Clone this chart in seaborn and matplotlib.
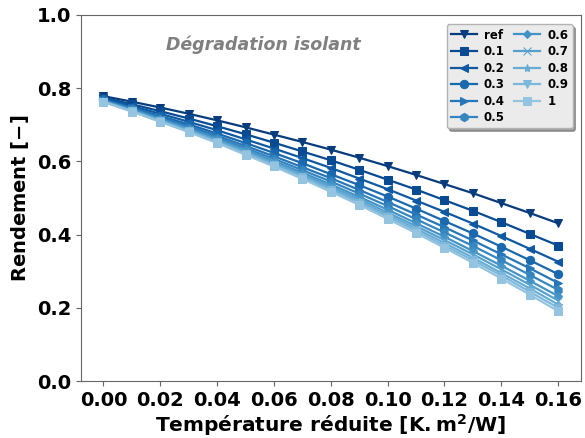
import numpy as np
import pandas as pd
import matplotlib
matplotlib.use('Agg')
import matplotlib.pyplot as plt
import seaborn as sns

# temperature reduite
t_red = [0.00, 0.01, 0.02, 0.03, 0.04, 0.05, 0.06, 0.07, 0.08,
         0.09, 0.10, 0.11, 0.12, 0.13, 0.14, 0.15, 0.16]

labels = ['ref', '0.1', '0.2', '0.3', '0.4', '0.5', '0.6', '0.7', '0.8', '0.9', '1']

eta_ref = [0.778, 0.763, 0.747, 0.730, 0.712, 0.693, 0.673, 0.653, 0.632, 0.610, 0.587, 0.563, 0.538, 0.513, 0.486, 0.459, 0.431]
eta_01 = [0.774, 0.756, 0.737, 0.717, 0.696, 0.674, 0.651, 0.627, 0.603, 0.577, 0.550, 0.523, 0.494, 0.465, 0.434, 0.402, 0.370]
eta_02 = [0.771, 0.751, 0.730, 0.708, 0.685, 0.660, 0.635, 0.609, 0.582, 0.553, 0.524, 0.493, 0.462, 0.430, 0.396, 0.361, 0.326]
eta_03 = [0.769, 0.747, 0.724, 0.701, 0.676, 0.650, 0.623, 0.595, 0.565, 0.535, 0.504, 0.471, 0.437, 0.403, 0.367, 0.330, 0.292]
eta_04 = [0.767, 0.745, 0.721, 0.696, 0.670, 0.642, 0.614, 0.584, 0.554, 0.522, 0.489, 0.455, 0.420, 0.384, 0.346, 0.308, 0.268]
eta_05 = [0.766, 0.743, 0.717, 0.692, 0.665, 0.636, 0.607, 0.576, 0.545, 0.512, 0.478, 0.442, 0.406, 0.369, 0.330, 0.290, 0.249]
eta_06 = [0.765, 0.741, 0.715, 0.689, 0.661, 0.631, 0.601, 0.569, 0.537, 0.503, 0.468, 0.431, 0.394, 0.355, 0.315, 0.274, 0.232]
eta_07 = [0.764, 0.739, 0.713, 0.686, 0.658, 0.627, 0.597, 0.564, 0.531, 0.497, 0.460, 0.423, 0.385, 0.346, 0.305, 0.263, 0.220]
eta_08 = [0.763, 0.738, 0.711, 0.684, 0.655, 0.624, 0.593, 0.560, 0.526, 0.491, 0.454, 0.416, 0.377, 0.337, 0.295, 0.253, 0.209]
eta_09 = [0.763, 0.737, 0.709, 0.682, 0.652, 0.621, 0.589, 0.556, 0.521, 0.486, 0.448, 0.410, 0.370, 0.330, 0.288, 0.244, 0.200]
eta_1 = [0.762, 0.736, 0.708, 0.680, 0.650, 0.618, 0.586, 0.552, 0.517, 0.481, 0.443, 0.404, 0.364, 0.323, 0.280, 0.236, 0.191]

series = [eta_ref, eta_01, eta_02, eta_03, eta_04, eta_05, eta_06, eta_07, eta_08, eta_09, eta_1]

markers = ['v', 's', '<', 'o', '>', 'h', 'D', 'x', '*', 'v', 's']
colors = plt.cm.Blues(np.linspace(0.95, 0.4, len(labels)))

plt.rcParams['font.weight'] = 'bold'
plt.rcParams['mathtext.default'] = 'bf'

fig, ax = plt.subplots(figsize=(5.85, 4.38), dpi=100)
for lab, vals, mk, col in zip(labels, series, markers, colors):
    d = pd.DataFrame({'T': t_red, 'eta': vals})
    sns.lineplot(data=d, x='T', y='eta', color=col, marker=mk,
                 markersize=6 if mk != 'D' else 4.5, markeredgecolor=col,
                 linewidth=1.6, label=lab, ax=ax)

ax.set_ylim(0, 1.0)
ax.set_xticks([0.00, 0.02, 0.04, 0.06, 0.08, 0.10, 0.12, 0.14, 0.16])
ax.set_xticklabels(['0.00', '0.02', '0.04', '0.06', '0.08', '0.10', '0.12', '0.14', '0.16'])
ax.set_yticks([0.0, 0.2, 0.4, 0.6, 0.8, 1.0])
ax.tick_params(labelsize=14, colors='black')
for lab in ax.get_xticklabels() + ax.get_yticklabels():
    lab.set_fontweight('bold')
for sp in ax.spines.values():
    sp.set_color('0.4')
ax.tick_params(color='0.4')

ax.set_xlabel(r'Température réduite [$\mathbf{K.m^2/W}$]', fontsize=14.5,
              fontweight='bold', labelpad=2)
ax.set_ylabel(r'Rendement [$\mathbf{-}$]', fontsize=14, fontweight='bold')

ax.text(0.17, 0.905, 'Dégradation isolant', transform=ax.transAxes,
        fontsize=12.5, fontweight='bold', fontstyle='italic', color='grey')

leg = ax.legend(loc='upper right', ncol=2, fontsize=8.5, frameon=True,
                shadow=True, facecolor='#ebebeb', edgecolor='0.7',
                borderpad=0.35, labelspacing=0.3, columnspacing=0.8,
                handlelength=2.2, handletextpad=0.6,
                bbox_to_anchor=(0.995, 0.99))
for txt in leg.get_texts():
    txt.set_fontweight('bold')

fig.subplots_adjust(left=0.138, right=0.993, top=0.966, bottom=0.13)
fig.savefig('out.png', dpi=100)
